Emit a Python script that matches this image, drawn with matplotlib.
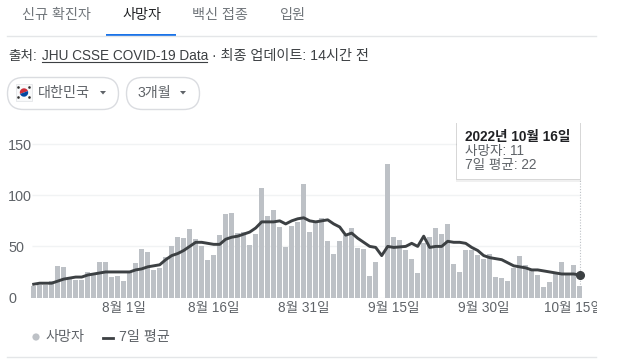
import matplotlib
matplotlib.use("Agg")
import matplotlib.pyplot as plt
from matplotlib.patches import FancyBboxPatch, Rectangle, Circle, Wedge
from matplotlib.transforms import Bbox

plt.rcParams['font.family'] = ['Liberation Sans', 'Noto Sans CJK KR', 'DejaVu Sans']

deaths = [11, 12, 12, 16, 31, 30, 18, 17, 17, 25, 23, 35, 35, 20, 21, 16,
          25, 34, 47, 45, 27, 29, 40, 50, 59, 58, 67, 57, 50, 37, 42, 61,
          82, 83, 63, 64, 51, 62, 107, 80, 86, 69, 49, 70, 74, 111, 64, 73,
          78, 55, 43, 55, 61, 68, 48, 47, 21, 35, 0, 131, 59, 56, 46, 38,
          24, 53, 59, 68, 62, 72, 33, 25, 46, 46, 42, 38, 43, 20, 19, 16,
          29, 41, 32, 27, 22, 10, 15, 24, 35, 24, 32, 11]
avg_7d = [13, 14, 14, 14, 16, 18, 19, 20, 20, 22, 23, 24, 25, 25, 25, 25,
          25, 27, 28, 30, 31, 32, 37, 41, 43, 46, 50, 54, 54, 53, 52, 52,
          57, 59, 60, 62, 64, 68, 74, 74, 74, 75, 72, 75, 77, 78, 75, 74,
          75, 76, 72, 69, 61, 63, 58, 54, 50, 49, 41, 50, 49, 49.5, 50, 53,
          50, 60, 49, 50, 50, 55, 54, 54, 53, 49, 46, 41, 39, 38, 37, 34,
          31, 30, 29, 27, 27, 26, 25, 24, 23, 23, 23, 22]
tick_idx = [15, 30, 45, 60, 75, 90]
tick_labels = ['8월 1일', '8월 16일', '8월 31일', '9월 15일', '9월 30일', '10월 15일']
y_ticks = [0, 50, 100, 150]

W, H = 617, 361
GREY = '#5f6368'
DARK = '#202124'
BAR = '#bdc1c6'
LINE = '#3c4043'

fig = plt.figure(figsize=(W / 100, H / 100), dpi=100)

# chart axes, placed in pixels
left, right, top, bottom = 31, 597, 130, 297.5
ax = fig.add_axes([left / W, 1 - bottom / H, (right - left) / W, (bottom - top) / H])
ax.set_xlim((left - 33.7) / 6, (right - 33.7) / 6)
ax.set_ylim(0, (bottom - top) / 1.022)
for s in ax.spines.values():
    s.set_visible(False)
xs = list(range(len(deaths)))
ax.hlines(y_ticks, -0.3, 91, color='#f1f3f4', lw=1, zorder=1)
ax.bar(xs, deaths, width=0.86, color=BAR, zorder=2)
ax.plot(xs, avg_7d, color=LINE, lw=2.1, zorder=3, solid_joinstyle='round')
ax.plot(xs[-1], avg_7d[-1], 'o', color=LINE, ms=5.5, zorder=4)
ax.vlines(xs[-1], 0, 115, color='#bdc1c6', lw=0.8, linestyles=(0, (1, 1.5)), zorder=3)

ax.set_yticks(y_ticks)
ax.set_yticklabels([str(v) for v in y_ticks], color=GREY, fontsize=10.4, ha='left')
ax.set_xticks(tick_idx)
ax.set_xticklabels(tick_labels, color=GREY, fontsize=9.8)
ax.tick_params(axis='y', length=0, pad=16.5)
ax.tick_params(axis='x', length=0, pad=2.3)
clip = Bbox([[0, 0], [597, H]])
for lab in ax.get_xticklabels():
    lab.set_clip_box(clip)
    lab.set_clip_on(True)

# everything around the chart, in image pixels
ui = fig.add_axes([0, 0, 1, 1], zorder=5)
ui.set_xlim(0, W)
ui.set_ylim(H, 0)
ui.axis('off')
ui.patch.set_alpha(0)


def label(x, y, s, color=GREY, size=10.2, **kw):
    # +1.5: Korean glyphs sit high in the centred text box
    ui.text(x, y + 1.5, s, color=color, fontsize=size, va='center', **kw)


# tabs
label(22, 13, '신규 확진자', color='#70757a')
label(122, 13, '사망자', color=DARK)
label(192, 13, '백신 접종', color='#70757a')
label(279, 13, '입원', color='#70757a')
ui.plot([7, 596], [36, 36], color='#e4e6e8', lw=1)
ui.add_patch(Rectangle((106, 33.5), 70, 2.2, color='#1a73e8', lw=0))

# source line
label(8, 54.5, '출처:', color='#3c4043', size=9.8)
label(42, 54.5, 'JHU CSSE COVID-19 Data', color='#3c4043', size=9.8)
ui.plot([42, 207], [61.5, 61.5], color='#3c4043', lw=0.8)
label(212, 54.5, '· 최종 업데이트: 14시간 전', color='#3c4043', size=10.2)

# filter pills
for x0, x1 in [(7.5, 118.5), (126.5, 199.5)]:
    ui.add_patch(FancyBboxPatch((x0 + 16, 77.5 + 16), x1 - x0 - 32, 0,
                                boxstyle='round,pad=16,rounding_size=16',
                                fc='white', ec='#dadce0', lw=1))
ui.add_patch(Rectangle((16, 84), 16, 17, fc='#f8f9fa', ec='#e4e6e8', lw=0.6))
ui.add_patch(Wedge((24, 92.5), 4.2, 160, 340, fc='#cd2e3a', lw=0))
ui.add_patch(Wedge((24, 92.5), 4.2, 340, 160, fc='#0047a0', lw=0))
for fx, fy in [(18.5, 87.5), (29.5, 87.5), (18.5, 97.5), (29.5, 97.5)]:
    ui.add_patch(Circle((fx, fy), 1.3, fc='#333333', lw=0))
label(38, 92, '대한민국')
label(138, 92, '3개월')
ui.fill([100, 106, 103], [91, 91, 94.5], color=GREY, lw=0)
ui.fill([180, 186, 183], [91, 91, 94.5], color=GREY, lw=0)

# tooltip
for off, alpha in [(2.5, 0.06), (1.2, 0.1)]:
    ui.add_patch(Rectangle((457 - off / 2, 123), 123 + off, 56 + off, fc='black', alpha=alpha, lw=0))
ui.add_patch(Rectangle((457, 123), 123, 56, fc='white', lw=0))
label(465, 135.5, '2022년 10월 16일', color=DARK, size=9.8, fontweight='bold')
label(465, 150, '사망자: 11', size=9.8)
label(465, 163.5, '7일 평균: 22', size=9.8)

# legend
ui.add_patch(Circle((36, 337), 3.6, fc=BAR, lw=0))
label(45, 336, '사망자')
ui.plot([103, 113], [338, 338], color=LINE, lw=2)
label(119, 336, '7일 평균')
ui.plot([7, 596], [357, 357], color='#e4e6e8', lw=1)

fig.savefig('out.png', dpi=100)
